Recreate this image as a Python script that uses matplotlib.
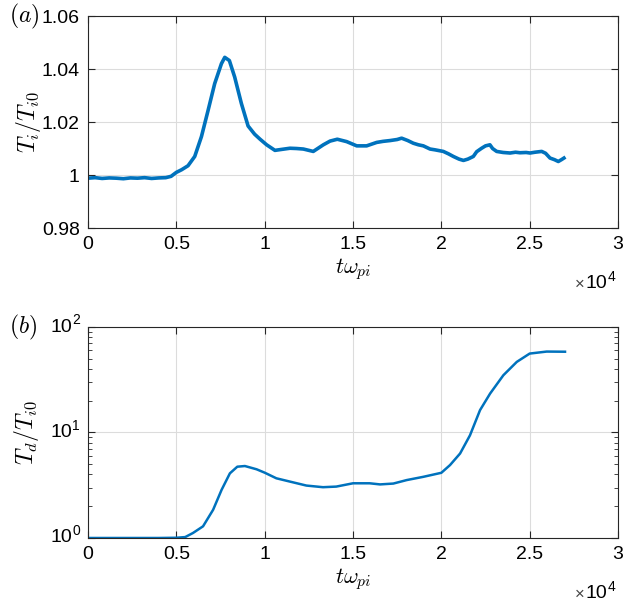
import numpy as np
import matplotlib
matplotlib.use("Agg")
from matplotlib import pyplot as plt
from matplotlib.ticker import FixedLocator, FuncFormatter, LogLocator, NullFormatter

plt.rcParams['font.family'] = ['Liberation Sans', 'DejaVu Sans']
plt.rcParams['mathtext.fontset'] = 'cm'

# ----------------- Data -----------------
# panel (a): ion temperature ratio T_i/T_i0
t_a = [0, 400, 800, 1200, 1600, 2000, 2400, 2800, 3200, 3600, 4000, 4400, 4700,
       5000, 5300, 5660, 6040, 6420, 6800, 7170, 7550, 7740, 8000, 8300, 8680,
       9060, 9430, 9740, 10110, 10580, 11000, 11430, 11800, 12190, 12750, 13320,
       13700, 14110, 14640, 15210, 15770, 16340, 16700, 17100, 17500, 17750, 18100,
       18410, 18700, 18980, 19360, 19640, 20110, 20400, 20680, 21000, 21250, 21500,
       21810, 22000, 22280, 22500, 22750, 22900, 23130, 23500, 23890, 24200, 24450,
       24800, 25020, 25300, 25680, 25900, 26150, 26400, 26620, 26800, 26940]
Ti_a = [0.9988, 0.9990, 0.9987, 0.9989, 0.9988, 0.9986, 0.9989, 0.9988, 0.9990,
        0.9987, 0.9989, 0.9990, 0.9995, 1.0010, 1.0020, 1.0035, 1.0070, 1.0145,
        1.0245, 1.0345, 1.0420, 1.0444, 1.0432, 1.0370, 1.0270, 1.0185, 1.0154,
        1.0135, 1.0114, 1.0093, 1.0097, 1.0101, 1.0100, 1.0098, 1.0089, 1.0114,
        1.0128, 1.0135, 1.0126, 1.0110, 1.0110, 1.0123, 1.0127, 1.0130, 1.0134,
        1.0139, 1.0130, 1.0120, 1.0114, 1.0110, 1.0098, 1.0095, 1.0089, 1.0080,
        1.0070, 1.0060, 1.0055, 1.0060, 1.0070, 1.0088, 1.0101, 1.0110, 1.0114,
        1.0100, 1.0089, 1.0085, 1.0083, 1.0086, 1.0084, 1.0085, 1.0083, 1.0086,
        1.0089, 1.0082, 1.0064, 1.0058, 1.0051, 1.0058, 1.0064]

# panel (b): dust temperature ratio T_d/T_i0
t_b = [0, 2000, 4000, 5000, 5500, 5940, 6510, 7080, 7560, 8030, 8450, 8880, 9540,
       10000, 10660, 11410, 12360, 13300, 14050, 15000, 15940, 16530, 17280, 18040,
       18980, 20000, 20490, 21060, 21620, 22190, 22760, 23510, 24270, 25000, 25960,
       27000]
Td_b = [1.0, 1.0, 1.0, 1.005, 1.02, 1.115, 1.29, 1.85, 2.86, 4.10, 4.74, 4.81,
        4.48, 4.16, 3.68, 3.43, 3.14, 3.03, 3.07, 3.30, 3.30, 3.22, 3.28, 3.54,
        3.80, 4.15, 4.91, 6.32, 9.4, 16.3, 23.4, 34.9, 46.7, 56.0, 58.5, 58.3]
log_ticks = [1, 10, 100]

line_color = '#0072BD'
axis_color = '#262626'

fig = plt.figure(figsize=(6.23, 6.04), dpi=100)
ax1 = fig.add_axes([0.1413, 0.6225, 0.8507, 0.351])
ax2 = fig.add_axes([0.1413, 0.1093, 0.8507, 0.3493])

xfmt = FuncFormatter(lambda v, p: '%g' % (v / 1e4))

for ax in (ax1, ax2):
    ax.set_xlim(0, 30000)
    ax.xaxis.set_major_locator(FixedLocator([0, 5000, 10000, 15000, 20000, 25000, 30000]))
    ax.xaxis.set_major_formatter(xfmt)
    ax.grid(True, color='#dcdcdc', linewidth=0.8)
    ax.set_axisbelow(True)
    ax.tick_params(direction='in', top=True, right=True, labelsize=14,
                   colors=axis_color, labelcolor='black', length=5, width=0.8, pad=6)
    ax.tick_params(which='minor', direction='in', right=True, length=3, width=0.6,
                   colors=axis_color)
    for s in ax.spines.values():
        s.set_color(axis_color)
        s.set_linewidth(0.8)
    ax.set_xlabel(r'$t\omega_{pi}$', fontsize=16, labelpad=2)
    # the x10^4 multiplier under the right end of the axis
    ax.text(0.979, -0.264, '10', transform=ax.transAxes, fontsize=14,
            ha='right', va='center')
    ax.text(0.936, -0.268, '×', transform=ax.transAxes, fontsize=12,
            ha='right', va='center', color='#444444')
    ax.text(0.981, -0.232, '4', transform=ax.transAxes, fontsize=10,
            ha='left', va='center')

# ----------------- Panel (a) -----------------
ax1.plot(t_a, Ti_a, color=line_color, linewidth=2.6)
ax1.set_ylim(0.98, 1.06)
ax1.yaxis.set_major_locator(FixedLocator([0.98, 1.0, 1.02, 1.04, 1.06]))
ax1.yaxis.set_major_formatter(FuncFormatter(lambda v, p: '%g' % round(v, 2)))
ax1.set_ylabel(r'$T_i/T_{i0}$', fontsize=17, labelpad=-1)
ax1.text(-0.15, 1.0, r'$(a)$', transform=ax1.transAxes, fontsize=17,
         ha='left', va='center')

# ----------------- Panel (b) -----------------
ax2.plot(t_b, Td_b, color=line_color, linewidth=1.8)
ax2.set_yscale('log')
ax2.set_ylim(1, 100)
ax2.yaxis.set_major_locator(FixedLocator(log_ticks))
ax2.yaxis.set_major_formatter(FuncFormatter(lambda v, p: ''))
ax2.yaxis.set_minor_locator(LogLocator(base=10, subs=np.arange(2, 10)))
ax2.yaxis.set_minor_formatter(NullFormatter())
for v in log_ticks:
    ax2.annotate('10', xy=(0, v), xycoords=('axes fraction', 'data'),
                 xytext=(-11.5, 0), textcoords='offset points', fontsize=14,
                 ha='right', va='center')
    ax2.annotate('%d' % round(np.log10(v)), xy=(0, v),
                 xycoords=('axes fraction', 'data'),
                 xytext=(-11.5, 5), textcoords='offset points', fontsize=10,
                 ha='left', va='center')
ax2.set_ylabel(r'$T_d/T_{i0}$', fontsize=17, labelpad=28)
ax2.text(-0.15, 1.0, r'$(b)$', transform=ax2.transAxes, fontsize=17,
         ha='left', va='center')

fig.savefig('out.png', dpi=100)
